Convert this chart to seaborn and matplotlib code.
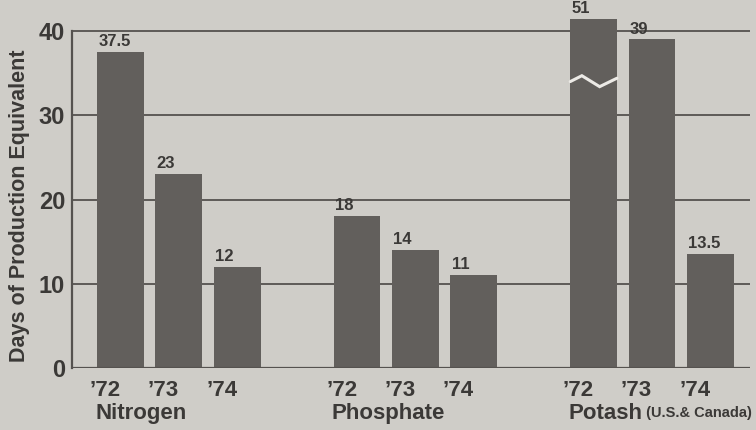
import matplotlib
matplotlib.use("Agg")
import matplotlib.pyplot as plt
import pandas as pd
import seaborn as sns

# data
groups = ["Nitrogen", "Phosphate", "Potash"]
years = ["\u201972", "\u201973", "\u201974"]
nitrogen = [37.5, 23, 12]
phosphate = [18, 14, 11]
potash = [51, 39, 13.5]
value_text = [["37.5", "23", "12"], ["18", "14", "11"], ["51", "39", "13.5"]]
axis_cap = 41.4  # bars above this are drawn broken

bg = "#cfcdc8"
bar_color = "#625f5c"
ink = "#3b3937"
grid_color = "#55524f"

sns.set_theme(style="white")
plt.rcParams["font.family"] = ["Liberation Sans", "DejaVu Sans"]
plt.rcParams["font.weight"] = "bold"

rows = []
for g, vals in enumerate([nitrogen, phosphate, potash]):
    for i, v in enumerate(vals):
        rows.append({"group": groups[g], "year": years[i], "value": v,
                     "shown": min(v, axis_cap), "label": value_text[g][i],
                     "pos": g * 4.05 + i})
df = pd.DataFrame(rows)

fig = plt.figure(figsize=(7.56, 4.30), dpi=100, facecolor=bg)
ax = fig.add_axes([0.0952, 0.1442, 0.897, 0.858])
ax.set_facecolor(bg)

for y in [10, 20, 30, 40]:
    ax.axhline(y, color=grid_color, lw=1.3, zorder=0)
ax.axhline(0, color=grid_color, lw=1.6, zorder=3)

sns.barplot(data=df, x="pos", y="shown", native_scale=True, color=bar_color,
            saturation=1, width=0.8, errorbar=None, linewidth=0, ax=ax,
            zorder=2)

patches = sorted(ax.patches, key=lambda p: p.get_x())
for p, (_, r) in zip(patches, df.iterrows()):
    x0 = p.get_x()
    h = p.get_height()
    ax.text(x0 + 0.02, h + 0.35, r["label"], ha="left", va="bottom",
            fontsize=12, fontweight="bold", color=ink)
    ax.annotate(r["year"], xy=(x0 - 0.13, 0), xytext=(0, -16.5),
                textcoords="offset points", ha="left", va="center",
                fontsize=16, fontweight="bold", color=ink,
                annotation_clip=False)
    if r["value"] > axis_cap:
        w = p.get_width()
        ax.plot([x0, x0 + 0.25 * w, x0 + 0.63 * w, x0 + w],
                [34.0, 34.7, 33.4, 34.4], color="#eceae6", lw=2.2,
                zorder=4, solid_joinstyle="miter")

for g, name in enumerate(groups):
    x0 = patches[g * 3].get_x()
    ann = ax.annotate(name, xy=(x0 - 0.03, 0), xytext=(0, -32.5),
                      textcoords="offset points", ha="left", va="center",
                      fontsize=16, fontweight="bold", color=ink,
                      annotation_clip=False)
    if name == "Potash":
        ax.annotate(" (U.S.& Canada)", xy=(1, 0.5), xycoords=ann,
                    ha="left", va="center", fontsize=10.5,
                    fontweight="bold", color=ink)

ax.set_ylim(0, 43.8)
ax.set_xlim(-0.83, 10.78)
ax.set_yticks([0, 10, 20, 30, 40])
ax.set_yticklabels(["0", "10", "20", "30", "40"], fontsize=17,
                   fontweight="bold", color=ink)
ax.tick_params(axis="y", length=0, pad=5)
ax.set_xticks([])
ax.set_xlabel("")
ax.set_ylabel("Days of Production Equivalent", fontsize=15.5,
              fontweight="bold", color=ink)
ax.yaxis.set_label_coords(-0.062, 0.44)

for s in ["top", "right", "bottom"]:
    ax.spines[s].set_visible(False)
ax.spines["left"].set_color(grid_color)
ax.spines["left"].set_linewidth(1.6)
ax.spines["left"].set_bounds(0, 40)

fig.savefig("out.png", dpi=100, facecolor=bg)
